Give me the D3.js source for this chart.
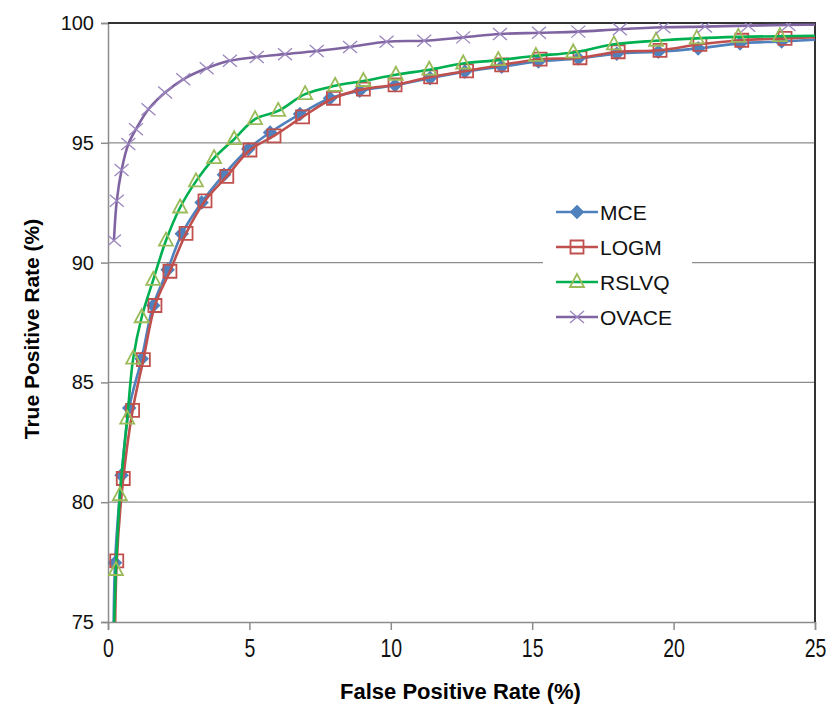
<!DOCTYPE html>
<html>
<head>
<meta charset="utf-8">
<script src="https://cdn.jsdelivr.net/npm/d3@7"></script>
<style>
  body { margin: 0; background: #fff; }
  svg { display: block; font-family: "Liberation Sans", Arial, sans-serif; }
</style>
</head>
<body>
<svg width="828" height="708"></svg>
<script>
// ROC curves
const xTicks = [0, 5, 10, 15, 20, 25];
const yTicks = [75, 80, 85, 90, 95, 100];
const seriesNames = ["MCE", "LOGM", "RSLVQ", "OVACE"];

const mceFpr = [0.19, 0.25, 0.48, 0.75, 1.19, 1.60, 2.11, 2.61, 3.31, 4.10, 4.96, 5.73, 6.79, 7.85, 8.9, 10.15, 11.39, 12.62, 13.92, 15.22, 16.63, 17.99, 19.46, 20.87, 22.35, 23.82, 25.4];
const mceTpr = [73, 77.47, 81.13, 83.93, 85.99, 88.21, 89.70, 91.20, 92.51, 93.67, 94.74, 95.43, 96.20, 96.86, 97.17, 97.40, 97.70, 97.97, 98.18, 98.39, 98.52, 98.72, 98.80, 98.94, 99.15, 99.23, 99.33];

const logmFpr = [0.24, 0.31, 0.54, 0.87, 1.25, 1.66, 2.19, 2.76, 3.43, 4.20, 5.02, 5.87, 6.88, 7.97, 9.03, 10.15, 11.41, 12.68, 13.92, 15.28, 16.69, 18.04, 19.52, 20.93, 22.41, 23.94, 25.4];
const logmTpr = [73, 77.55, 80.99, 83.83, 85.95, 88.21, 89.64, 91.22, 92.58, 93.60, 94.70, 95.29, 96.08, 96.86, 97.24, 97.42, 97.75, 98.00, 98.25, 98.49, 98.55, 98.80, 98.86, 99.11, 99.28, 99.36, 99.42];

const rslvqFpr = [0.17, 0.28, 0.42, 0.68, 0.89, 1.19, 1.60, 2.05, 2.55, 3.11, 3.75, 4.46, 5.20, 6.02, 6.97, 8.03, 9.03, 10.18, 11.36, 12.56, 13.80, 15.13, 16.45, 17.89, 19.38, 20.82, 22.29, 23.76, 25.3];
const rslvqTpr = [73, 77.17, 80.29, 83.49, 85.99, 87.72, 89.28, 90.92, 92.30, 93.39, 94.36, 95.15, 95.99, 96.33, 97.03, 97.38, 97.58, 97.84, 98.05, 98.31, 98.45, 98.63, 98.77, 99.11, 99.26, 99.36, 99.42, 99.45, 99.47];

const ovaceFpr = [0.21, 0.31, 0.48, 0.72, 0.99, 1.43, 2.02, 2.66, 3.49, 4.31, 5.26, 6.26, 7.38, 8.56, 9.85, 11.18, 12.56, 13.86, 15.24, 16.63, 18.10, 19.64, 21.11, 22.64, 24.06, 25.5];
const ovaceTpr = [90.92, 92.58, 93.86, 94.95, 95.57, 96.40, 97.10, 97.65, 98.11, 98.42, 98.58, 98.70, 98.83, 99.00, 99.22, 99.26, 99.40, 99.54, 99.59, 99.64, 99.74, 99.82, 99.85, 99.89, 99.92, 99.93];

const lineColors = ["#4F81BD", "#C0504D", "#00B050", "#8064A2"];
const markerColors = ["#4F81BD", "#C0504D", "#9BBB59", "#9B86BE"];
const markerTypes = ["diamond", "square", "triangle", "cross"];

const series = [
  { name: seriesNames[0], fpr: mceFpr, tpr: mceTpr },
  { name: seriesNames[1], fpr: logmFpr, tpr: logmTpr },
  { name: seriesNames[2], fpr: rslvqFpr, tpr: rslvqTpr },
  { name: seriesNames[3], fpr: ovaceFpr, tpr: ovaceTpr }
].map((s, i) => ({
  ...s,
  color: lineColors[i],
  mcolor: markerColors[i],
  type: markerTypes[i],
  points: s.fpr.map((x, j) => [x, s.tpr[j]])
}));

const margin = { top: 23, right: 13, bottom: 86, left: 108 };
const width = 828 - margin.left - margin.right;
const height = 708 - margin.top - margin.bottom;

const svg = d3.select("svg");
const chart = svg.append("g")
  .attr("transform", `translate(${margin.left}, ${margin.top})`);

const xScale = d3.scaleLinear().domain([0, 25]).range([0, width]);
const yScale = d3.scaleLinear().domain([75, 100]).range([height, 0]);

svg.append("defs").append("clipPath")
  .attr("id", "plot-clip")
  .append("rect")
  .attr("width", width)
  .attr("height", height);

// gridlines
chart.append("g")
  .selectAll("line")
  .data(yTicks.filter(t => t > 75 && t < 100))
  .enter()
  .append("line")
  .attr("x1", 0)
  .attr("x2", width)
  .attr("y1", d => yScale(d))
  .attr("y2", d => yScale(d))
  .attr("stroke", "#8c8c8c")
  .attr("stroke-width", 1.2);

// axes
const xAxis = chart.append("g")
  .attr("transform", `translate(0, ${height})`)
  .call(d3.axisBottom(xScale).tickValues(xTicks).tickSize(8).tickPadding(9));

const yAxis = chart.append("g")
  .call(d3.axisLeft(yScale).tickValues(yTicks).tickSize(7).tickPadding(7));

[xAxis, yAxis].forEach(a => {
  a.select(".domain").attr("stroke", "#8c8c8c").attr("stroke-width", 1.5);
  a.selectAll(".tick line").attr("stroke", "#8c8c8c").attr("stroke-width", 1.5);
  a.selectAll(".tick text")
    .attr("fill", "#111")
    .style("font-family", '"Liberation Sans", Arial, sans-serif')
    .style("font-size", "20px");
});
// the x labels in the picture are condensed
xAxis.selectAll(".tick text")
  .style("font-size", "25px")
  .attr("transform", "scale(0.78, 1)");

// top and right border of the plot area
chart.append("path")
  .attr("d", `M0,${yScale(100)} H${width} V${height}`)
  .attr("fill", "none")
  .attr("stroke", "#333")
  .attr("stroke-width", 2);

// markers
function markerPath(type) {
  if (type === "diamond") return "M0,-6 L6,0 L0,6 L-6,0 Z";
  if (type === "square") return "M-6.5,-6.5 H6.5 V6.5 H-6.5 Z";
  if (type === "triangle") return "M0,-8 L7,5 L-7,5 Z";
  return "M-7,-6 L7,6 M-7,6 L7,-6";
}

function drawMarker(sel, s) {
  sel.append("path")
    .attr("d", markerPath(s.type))
    .attr("fill", s.type === "diamond" ? s.mcolor : "none")
    .attr("stroke", s.mcolor)
    .attr("stroke-width", s.type === "cross" ? 1.3 : 1.8);
}

const line = d3.line()
  .x(d => xScale(d[0]))
  .y(d => yScale(d[1]))
  .curve(d3.curveCatmullRom.alpha(0.5));

const plot = chart.append("g").attr("clip-path", "url(#plot-clip)");

series.forEach(s => {
  const g = plot.append("g");
  g.append("path")
    .datum(s.points)
    .attr("d", line)
    .attr("fill", "none")
    .attr("stroke", s.color)
    .attr("stroke-width", 2.6);

  g.selectAll(".m")
    .data(s.points)
    .enter()
    .append("g")
    .attr("transform", d => `translate(${xScale(d[0])}, ${yScale(d[1])})`)
    .each(function () { drawMarker(d3.select(this), s); });
});

// legend
const legend = svg.append("g").attr("transform", "translate(543, 188)");
legend.append("rect")
  .attr("width", 149)
  .attr("height", 150)
  .attr("fill", "#fff");

series.forEach((s, i) => {
  const row = legend.append("g")
    .attr("transform", `translate(0, ${24 + i * 35})`);
  row.append("line")
    .attr("x1", 13).attr("x2", 55)
    .attr("stroke", s.color)
    .attr("stroke-width", 2.6);
  drawMarker(row.append("g").attr("transform", "translate(34, 0)"), s);
  row.append("text")
    .attr("x", 57)
    .attr("dy", "0.36em")
    .style("font-size", "21px")
    .attr("fill", "#111")
    .text(s.name);
});

// axis titles
svg.append("text")
  .attr("x", margin.left + width / 2 - 1)
  .attr("y", 699)
  .attr("text-anchor", "middle")
  .style("font-size", "22px")
  .style("font-weight", "bold")
  .text("False Positive Rate (%)");

svg.append("text")
  .attr("transform", "translate(39, 329) rotate(-90)")
  .attr("text-anchor", "middle")
  .style("font-size", "21px")
  .style("font-weight", "bold")
  .text("True Positive Rate (%)");
</script>
</body>
</html>
